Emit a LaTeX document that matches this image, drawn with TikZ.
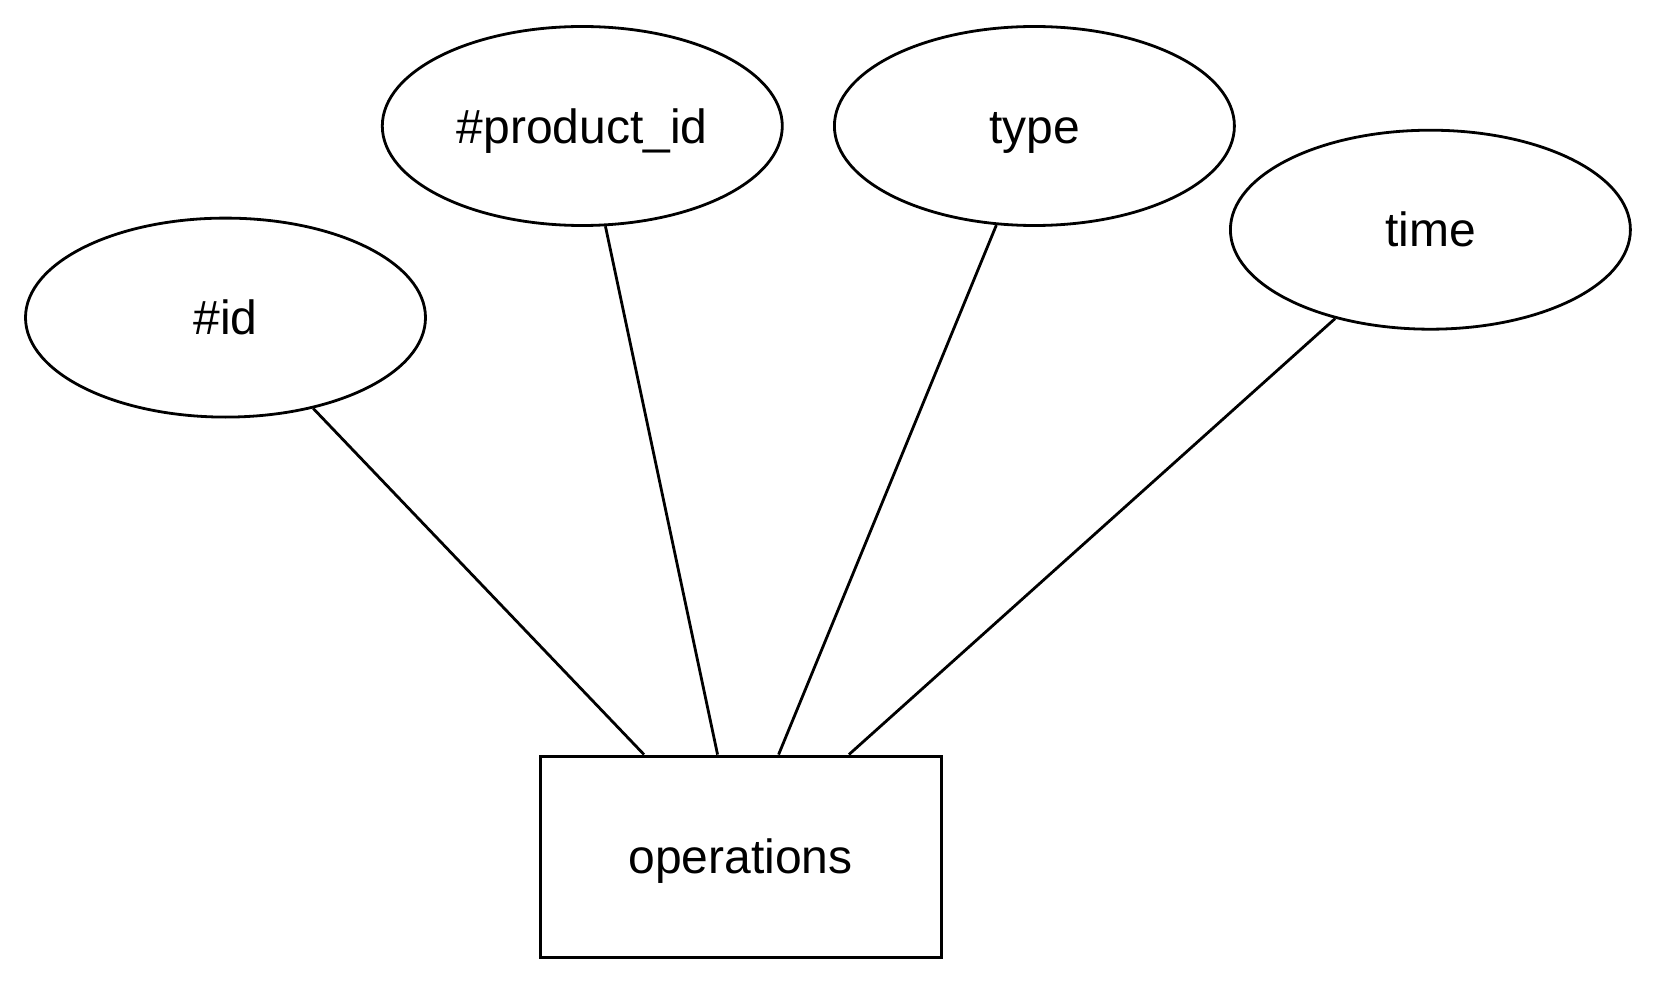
\documentclass[tikz,border=0pt]{standalone}
\usepackage{fontspec}
\setmainfont{Liberation Sans}
\usetikzlibrary{shapes.geometric,calc}
\begin{document}
\begin{tikzpicture}[x=0.5pt,y=-0.5pt,
  lbl/.style={inner sep=0pt,text height=17.2pt,text depth=0pt,font=\fontsize{24}{29}\selectfont},
  attr/.style={ellipse,draw,line width=1.4pt,minimum width=200pt,minimum height=99.5pt,lbl},
  ent/.style={rectangle,draw,line width=1.5pt,minimum width=200.5pt,minimum height=100.5pt,lbl},
  link/.style={line width=1.4pt}]
\useasboundingbox (0,0) rectangle (1660,984);
\node[attr] (id) at (225.5,317.6) {\#id};
\node[attr] (pid) at (582.3,126) {\#product\_id};
\node[attr] (type) at (1034.4,126) {type};
\node[attr] (time) at (1430.4,229.7) {time};
\node[ent] (ops) at (740.6,856.6) {operations};
\draw[link] (id.-46) -- ($(ops.north west)!0.261!(ops.north east)$);
\draw[link] (pid.-77.4) -- ($(ops.north west)!0.443!(ops.north east)$);
\draw[link] (type.-111.5) -- ($(ops.north west)!0.594!(ops.north east)$);
\draw[link] (time.-137.6) -- ($(ops.north west)!0.768!(ops.north east)$);
\end{tikzpicture}
\end{document}
